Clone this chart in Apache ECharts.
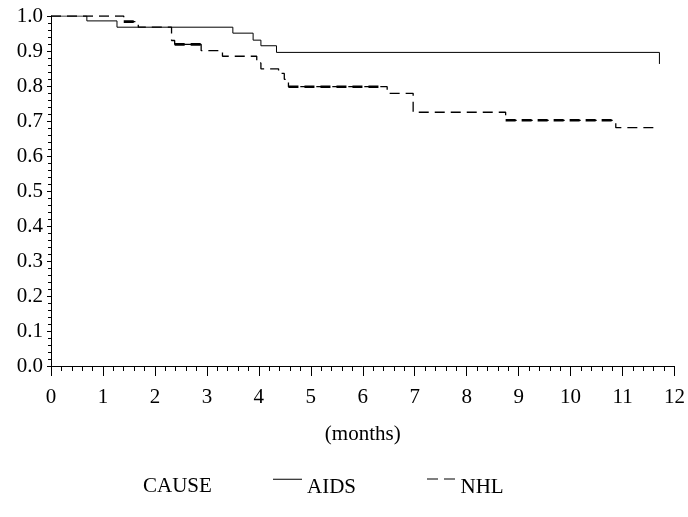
<!DOCTYPE html>
<html>
<head>
<meta charset="utf-8">
<script src="https://cdn.jsdelivr.net/npm/echarts@6/dist/echarts.min.js"></script>
<style>html,body{margin:0;padding:0;background:#fff;}#c{width:688px;height:517px;}</style>
</head>
<body>
<div id="c"></div>
<script>
// Kaplan-Meier style step data: [time (months), survival after step]
const aidsTimes  = [0, 0.69, 1.27, 3.50, 3.89, 4.04, 4.34, 11.71];
const aidsValues = [1.0, 0.986, 0.968, 0.951, 0.931, 0.915, 0.896, 0.863];

const nhlTimes  = [0, 1.40, 1.68, 2.32, 2.38, 2.89, 3.30, 3.96, 4.04, 4.38, 4.49, 4.57, 6.47, 6.97, 8.75, 10.87, 11.69];
const nhlValues = [1.0, 0.984, 0.968, 0.930, 0.919, 0.901, 0.885, 0.866, 0.849, 0.836, 0.819, 0.798, 0.779, 0.725, 0.702, 0.681, 0.681];

// intervals where the NHL curve is drawn heavier (dense censoring)
const nhlBoldRanges = [[1.40, 1.68], [2.38, 2.89], [4.57, 6.40], [8.75, 10.87]];

const xTicks = [0,1,2,3,4,5,6,7,8,9,10,11,12];
const yTicks = ['0.0','0.1','0.2','0.3','0.4','0.5','0.6','0.7','0.8','0.9','1.0'];
const legendTitle = 'CAUSE';
const xTitle = '(months)';

const aidsData = aidsTimes.map((t, i) => [t, aidsValues[i]]);
const nhlData = nhlTimes.map((t, i) => [t, nhlValues[i]]);

function valueAt(t) {
  let v = nhlValues[0];
  for (let i = 0; i < nhlTimes.length; i++) if (nhlTimes[i] <= t) v = nhlValues[i];
  return v;
}
const boldSeries = nhlBoldRanges.map(r => ({
  type: 'line', step: 'end', symbol: 'none', silent: true,
  data: [[r[0], valueAt(r[0])], [r[1], valueAt(r[0])]],
  lineStyle: { color: '#000', width: 2.6, type: [10, 6] },
  z: 3
}));

const FONT = '"Liberation Serif", "Times New Roman", serif';
const FS = 21;
const chart = echarts.init(document.getElementById('c'), null, { renderer: 'canvas' });
chart.setOption({
  animation: false,
  backgroundColor: '#fff',
  grid: { left: 51, right: 9, top: 16, bottom: 151 },
  xAxis: {
    type: 'value', min: 0, max: 12, interval: 1,
    name: xTitle, nameLocation: 'middle', nameGap: 58,
    nameTextStyle: { fontFamily: FONT, fontSize: FS, color: '#000' },
    axisLine: { lineStyle: { color: '#000', width: 1 } },
    axisTick: { show: true, length: 10, inside: false, lineStyle: { color: '#000' } },
    minorTick: { show: true, splitNumber: 5, length: 5, lineStyle: { color: '#000' } },
    axisLabel: { fontFamily: FONT, fontSize: FS, color: '#000', margin: 21,
      formatter: v => String(xTicks[Math.round(v)]) },
    splitLine: { show: false }
  },
  yAxis: {
    type: 'value', min: 0, max: 1, interval: 0.1,
    axisLine: { show: true, lineStyle: { color: '#000', width: 1 } },
    axisTick: { show: true, length: 4, lineStyle: { color: '#000' } },
    minorTick: { show: true, splitNumber: 5, length: 3, lineStyle: { color: '#000' } },
    axisLabel: { fontFamily: FONT, fontSize: FS, color: '#000', margin: 8,
      formatter: v => yTicks[Math.round(v * 10)] },
    splitLine: { show: false }
  },
  legend: {
    data: [
      { name: 'AIDS', icon: 'path://M0,0H30V1H0Z M0,18H30V18H0Z' },
      { name: 'NHL', icon: 'path://M0,0H11V1H0Z M17,0H28V1H17Z M0,18H28V18H0Z' }
    ],
    left: 268, top: 472, padding: 5,
    itemWidth: 29, itemHeight: 18, itemGap: 71,
    itemStyle: { color: '#000', borderWidth: 0 },
    textStyle: { fontFamily: FONT, fontSize: FS, color: '#000' }
  },
  graphic: [{
    type: 'text', left: 143, top: 476,
    style: { text: legendTitle, font: FS + 'px "Liberation Serif"', fill: '#000' }
  }],
  series: [
    { name: 'AIDS', type: 'line', step: 'end', symbol: 'none', data: aidsData,
      lineStyle: { color: '#000', width: 1 }, itemStyle: { color: '#000' }, z: 2 },
    { name: 'NHL', type: 'line', step: 'end', symbol: 'none', data: nhlData,
      lineStyle: { color: '#000', width: 1.3, type: [10, 6] }, itemStyle: { color: '#000' }, z: 2 }
  ].concat(boldSeries)
});
</script>
</body>
</html>
